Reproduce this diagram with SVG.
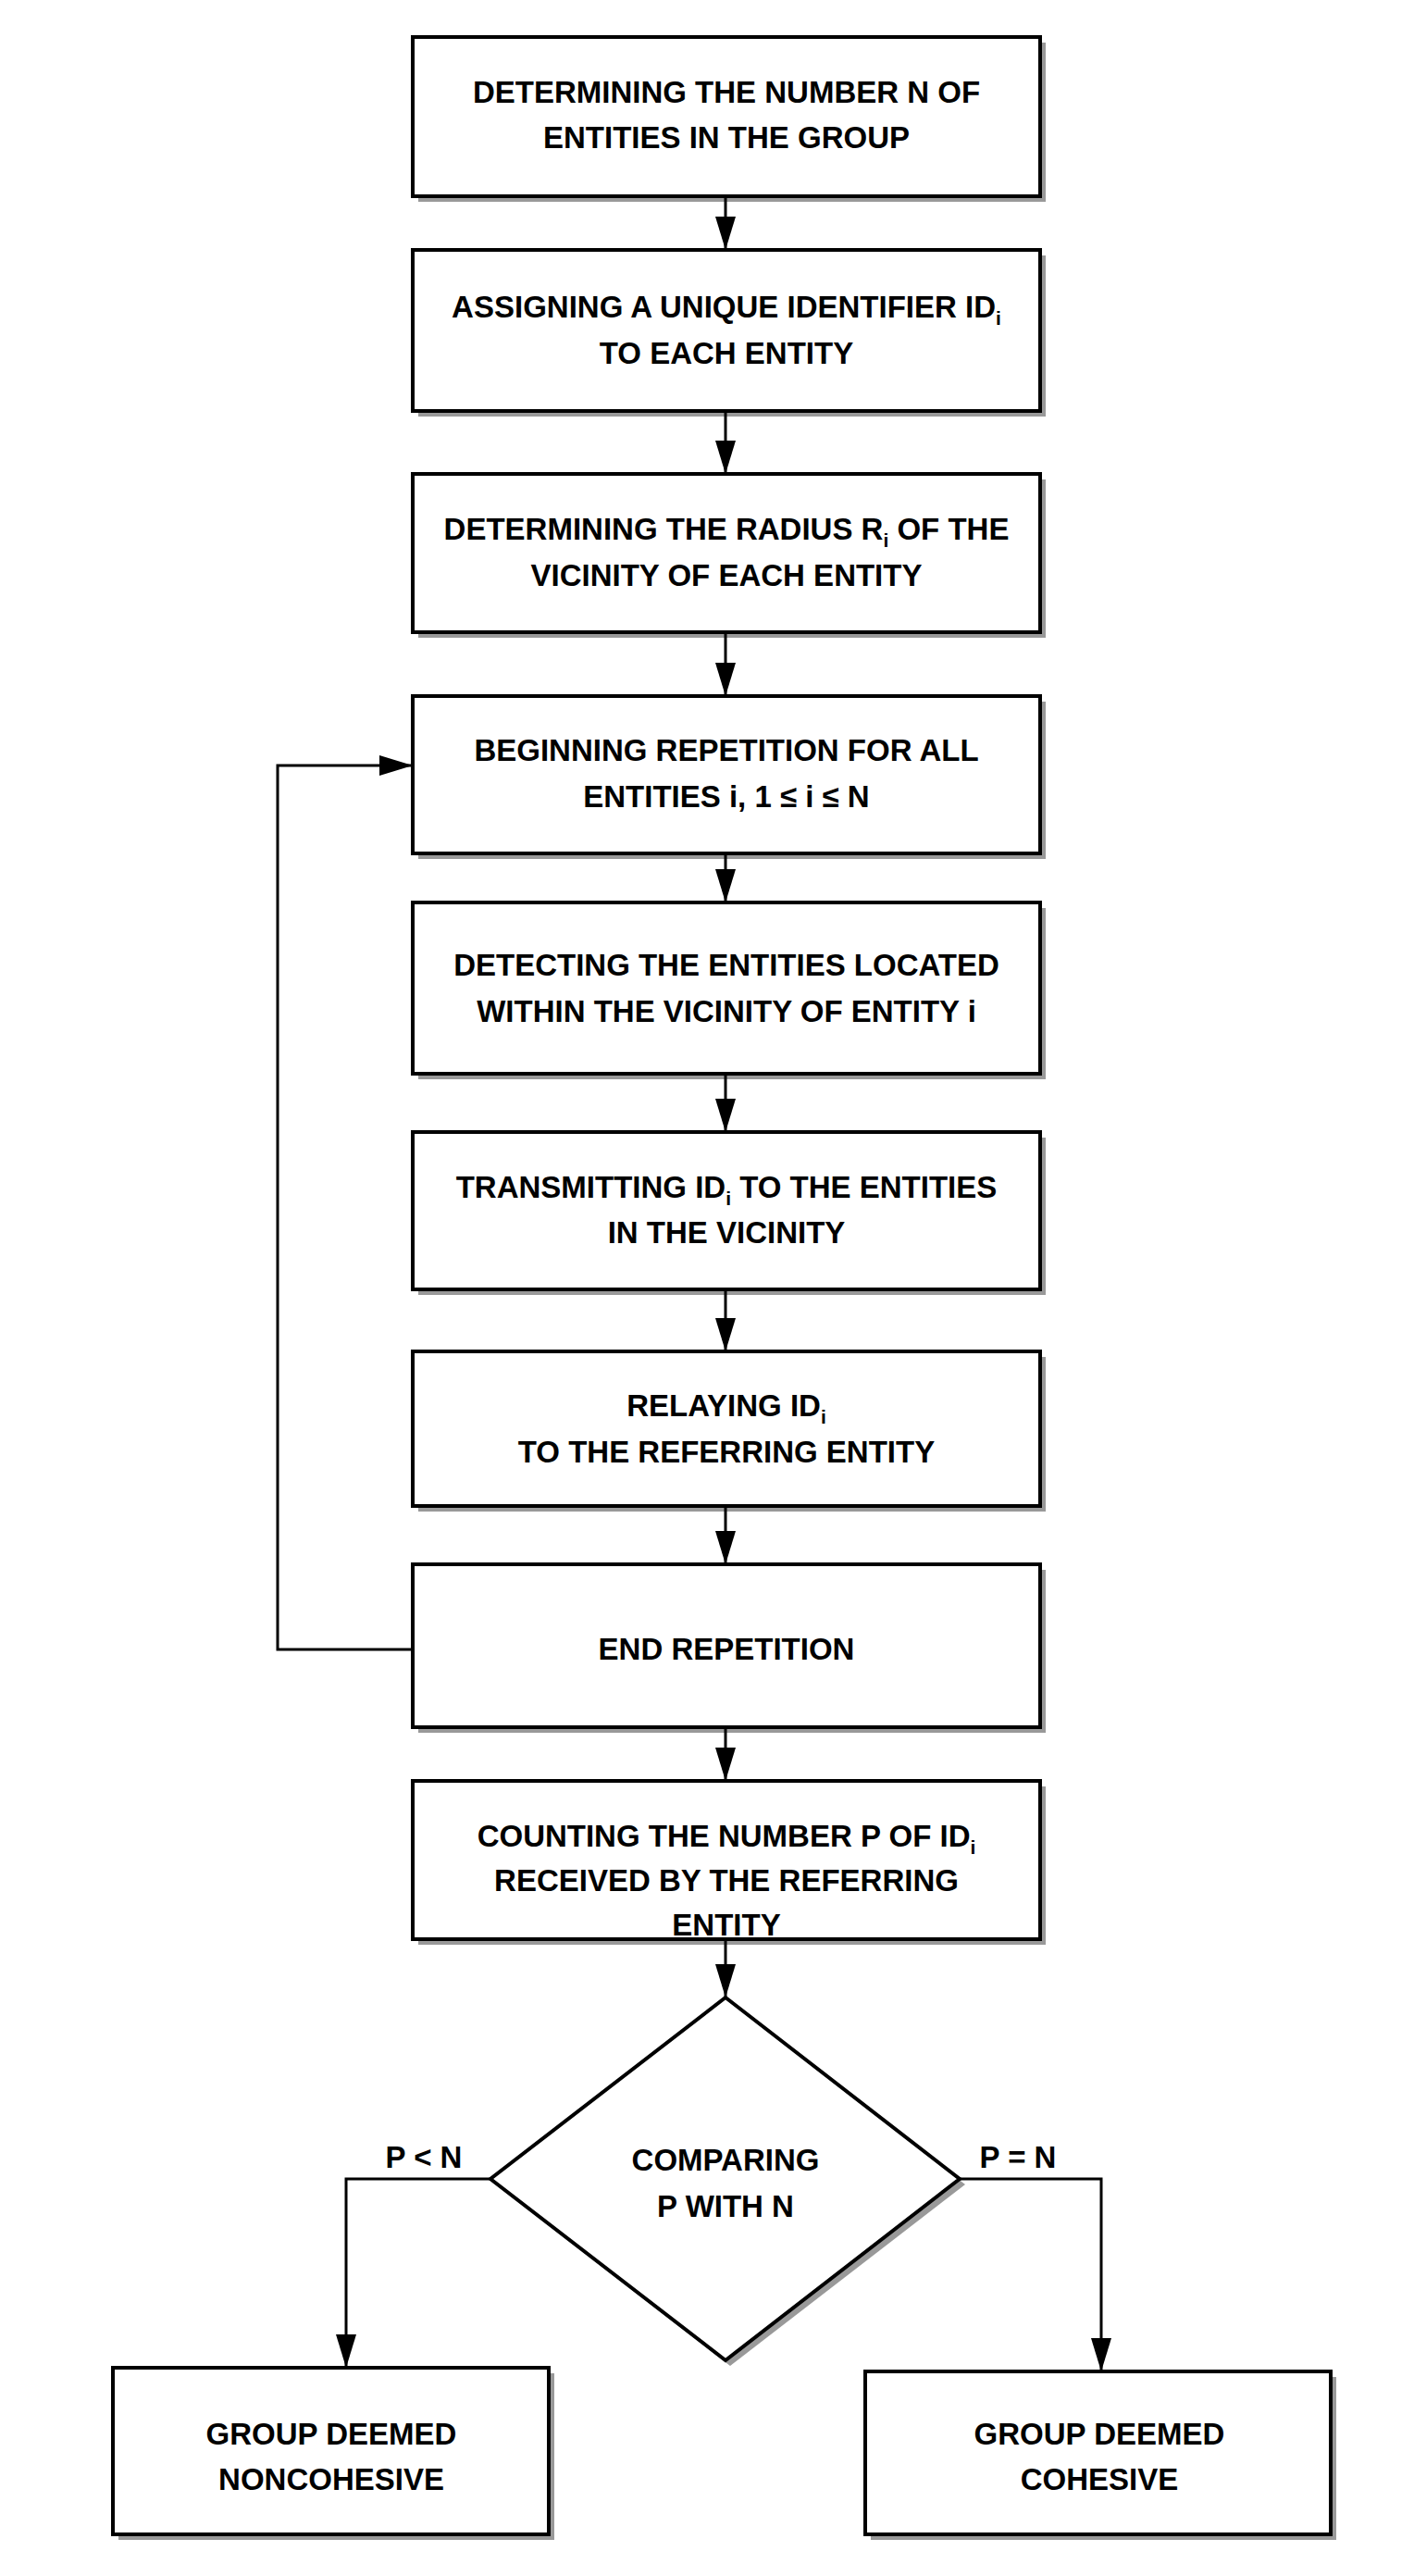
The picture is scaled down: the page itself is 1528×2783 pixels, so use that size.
<svg xmlns="http://www.w3.org/2000/svg" width="1528" height="2783" viewBox="0 0 1528 2783">
<style>
.b{fill:#fff;stroke:#000;stroke-width:4}
.s{fill:#999}
.t{font-family:"Liberation Sans",Arial,sans-serif;font-weight:bold;font-size:33px;text-anchor:middle;fill:#000}
.c{fill:none;stroke:#000;stroke-width:3}
.sub{font-size:21px}
</style>
<defs><marker id="a" markerWidth="36" markerHeight="22" refX="36" refY="11" orient="auto" markerUnits="userSpaceOnUse" viewBox="0 0 36 22"><path d="M0,0 L36,11 L0,22 Z" fill="#000"/></marker></defs>
<rect width="1528" height="2783" fill="#fff"/>
<g id="n1"><rect class="s" x="452" y="46" width="678" height="172"/><rect class="b" x="446" y="40" width="678" height="172"/><text class="t" x="785" y="111">DETERMINING THE NUMBER N OF</text><text class="t" x="785" y="160">ENTITIES IN THE GROUP</text></g>
<g id="n2"><rect class="s" x="452" y="276" width="678" height="174"/><rect class="b" x="446" y="270" width="678" height="174"/><text class="t" x="785" y="343">ASSIGNING A UNIQUE IDENTIFIER ID<tspan class="sub" dy="8">i</tspan></text><text class="t" x="785" y="393">TO EACH ENTITY</text></g>
<g id="n3"><rect class="s" x="452" y="518" width="678" height="171"/><rect class="b" x="446" y="512" width="678" height="171"/><text class="t" x="785" y="583">DETERMINING THE RADIUS R<tspan class="sub" dy="8">i</tspan><tspan dy="-8"> OF THE</tspan></text><text class="t" x="785" y="633">VICINITY OF EACH ENTITY</text></g>
<g id="n4"><rect class="s" x="452" y="758" width="678" height="170"/><rect class="b" x="446" y="752" width="678" height="170"/><text class="t" x="785" y="822">BEGINNING REPETITION FOR ALL</text><text class="t" x="785" y="872">ENTITIES i, 1 ≤ i ≤ N</text></g>
<g id="n5"><rect class="s" x="452" y="981" width="678" height="185"/><rect class="b" x="446" y="975" width="678" height="185"/><text class="t" x="785" y="1054">DETECTING THE ENTITIES LOCATED</text><text class="t" x="785" y="1104">WITHIN THE VICINITY OF ENTITY i</text></g>
<g id="n6"><rect class="s" x="452" y="1229" width="678" height="170"/><rect class="b" x="446" y="1223" width="678" height="170"/><text class="t" x="785" y="1294">TRANSMITTING ID<tspan class="sub" dy="8">i</tspan><tspan dy="-8"> TO THE ENTITIES</tspan></text><text class="t" x="785" y="1343">IN THE VICINITY</text></g>
<g id="n7"><rect class="s" x="452" y="1466" width="678" height="167"/><rect class="b" x="446" y="1460" width="678" height="167"/><text class="t" x="785" y="1530">RELAYING ID<tspan class="sub" dy="8">i</tspan></text><text class="t" x="785" y="1580">TO THE REFERRING ENTITY</text></g>
<g id="n8"><rect class="s" x="452" y="1696" width="678" height="176"/><rect class="b" x="446" y="1690" width="678" height="176"/><text class="t" x="785" y="1793">END REPETITION</text></g>
<g id="n9"><rect class="s" x="452" y="1930" width="678" height="171"/><rect class="b" x="446" y="1924" width="678" height="171"/><text class="t" x="785" y="1995">COUNTING THE NUMBER P OF ID<tspan class="sub" dy="8">i</tspan></text><text class="t" x="785" y="2043">RECEIVED BY THE REFERRING</text><text class="t" x="785" y="2091">ENTITY</text></g>
<g id="n10"><path d="M789,2164 L1043,2360 L789,2556 L536,2360 Z" fill="#999"/><path d="M784,2158 L1037,2354 L784,2550 L530,2354 Z" fill="#fff" stroke="#000" stroke-width="4"/><text class="t" x="784" y="2345">COMPARING</text><text class="t" x="784" y="2395">P WITH N</text></g>
<g id="n11"><rect class="s" x="128" y="2564" width="471" height="180"/><rect class="b" x="122" y="2558" width="471" height="180"/><text class="t" x="358" y="2641">GROUP DEEMED</text><text class="t" x="358" y="2690">NONCOHESIVE</text></g>
<g id="n12"><rect class="s" x="941" y="2568" width="503" height="176"/><rect class="b" x="935" y="2562" width="503" height="176"/><text class="t" x="1188" y="2641">GROUP DEEMED</text><text class="t" x="1188" y="2690">COHESIVE</text></g>
<g id="connectors">
<path class="c" d="M784,212 V270" marker-end="url(#a)"/>
<path class="c" d="M784,444 V512" marker-end="url(#a)"/>
<path class="c" d="M784,683 V752" marker-end="url(#a)"/>
<path class="c" d="M784,922 V975" marker-end="url(#a)"/>
<path class="c" d="M784,1160 V1223" marker-end="url(#a)"/>
<path class="c" d="M784,1393 V1460" marker-end="url(#a)"/>
<path class="c" d="M784,1627 V1690" marker-end="url(#a)"/>
<path class="c" d="M784,1866 V1924" marker-end="url(#a)"/>
<path class="c" d="M784,2095 V2158" marker-end="url(#a)"/>
<path class="c" d="M446,1782 H300 V827 H446" marker-end="url(#a)"/>
<path class="c" d="M530,2354 H374 V2558" marker-end="url(#a)"/>
<path class="c" d="M1037,2354 H1190 V2562" marker-end="url(#a)"/>
<text class="t" x="458" y="2342">P &lt; N</text>
<text class="t" x="1100" y="2342">P = N</text>
</g>
</svg>
